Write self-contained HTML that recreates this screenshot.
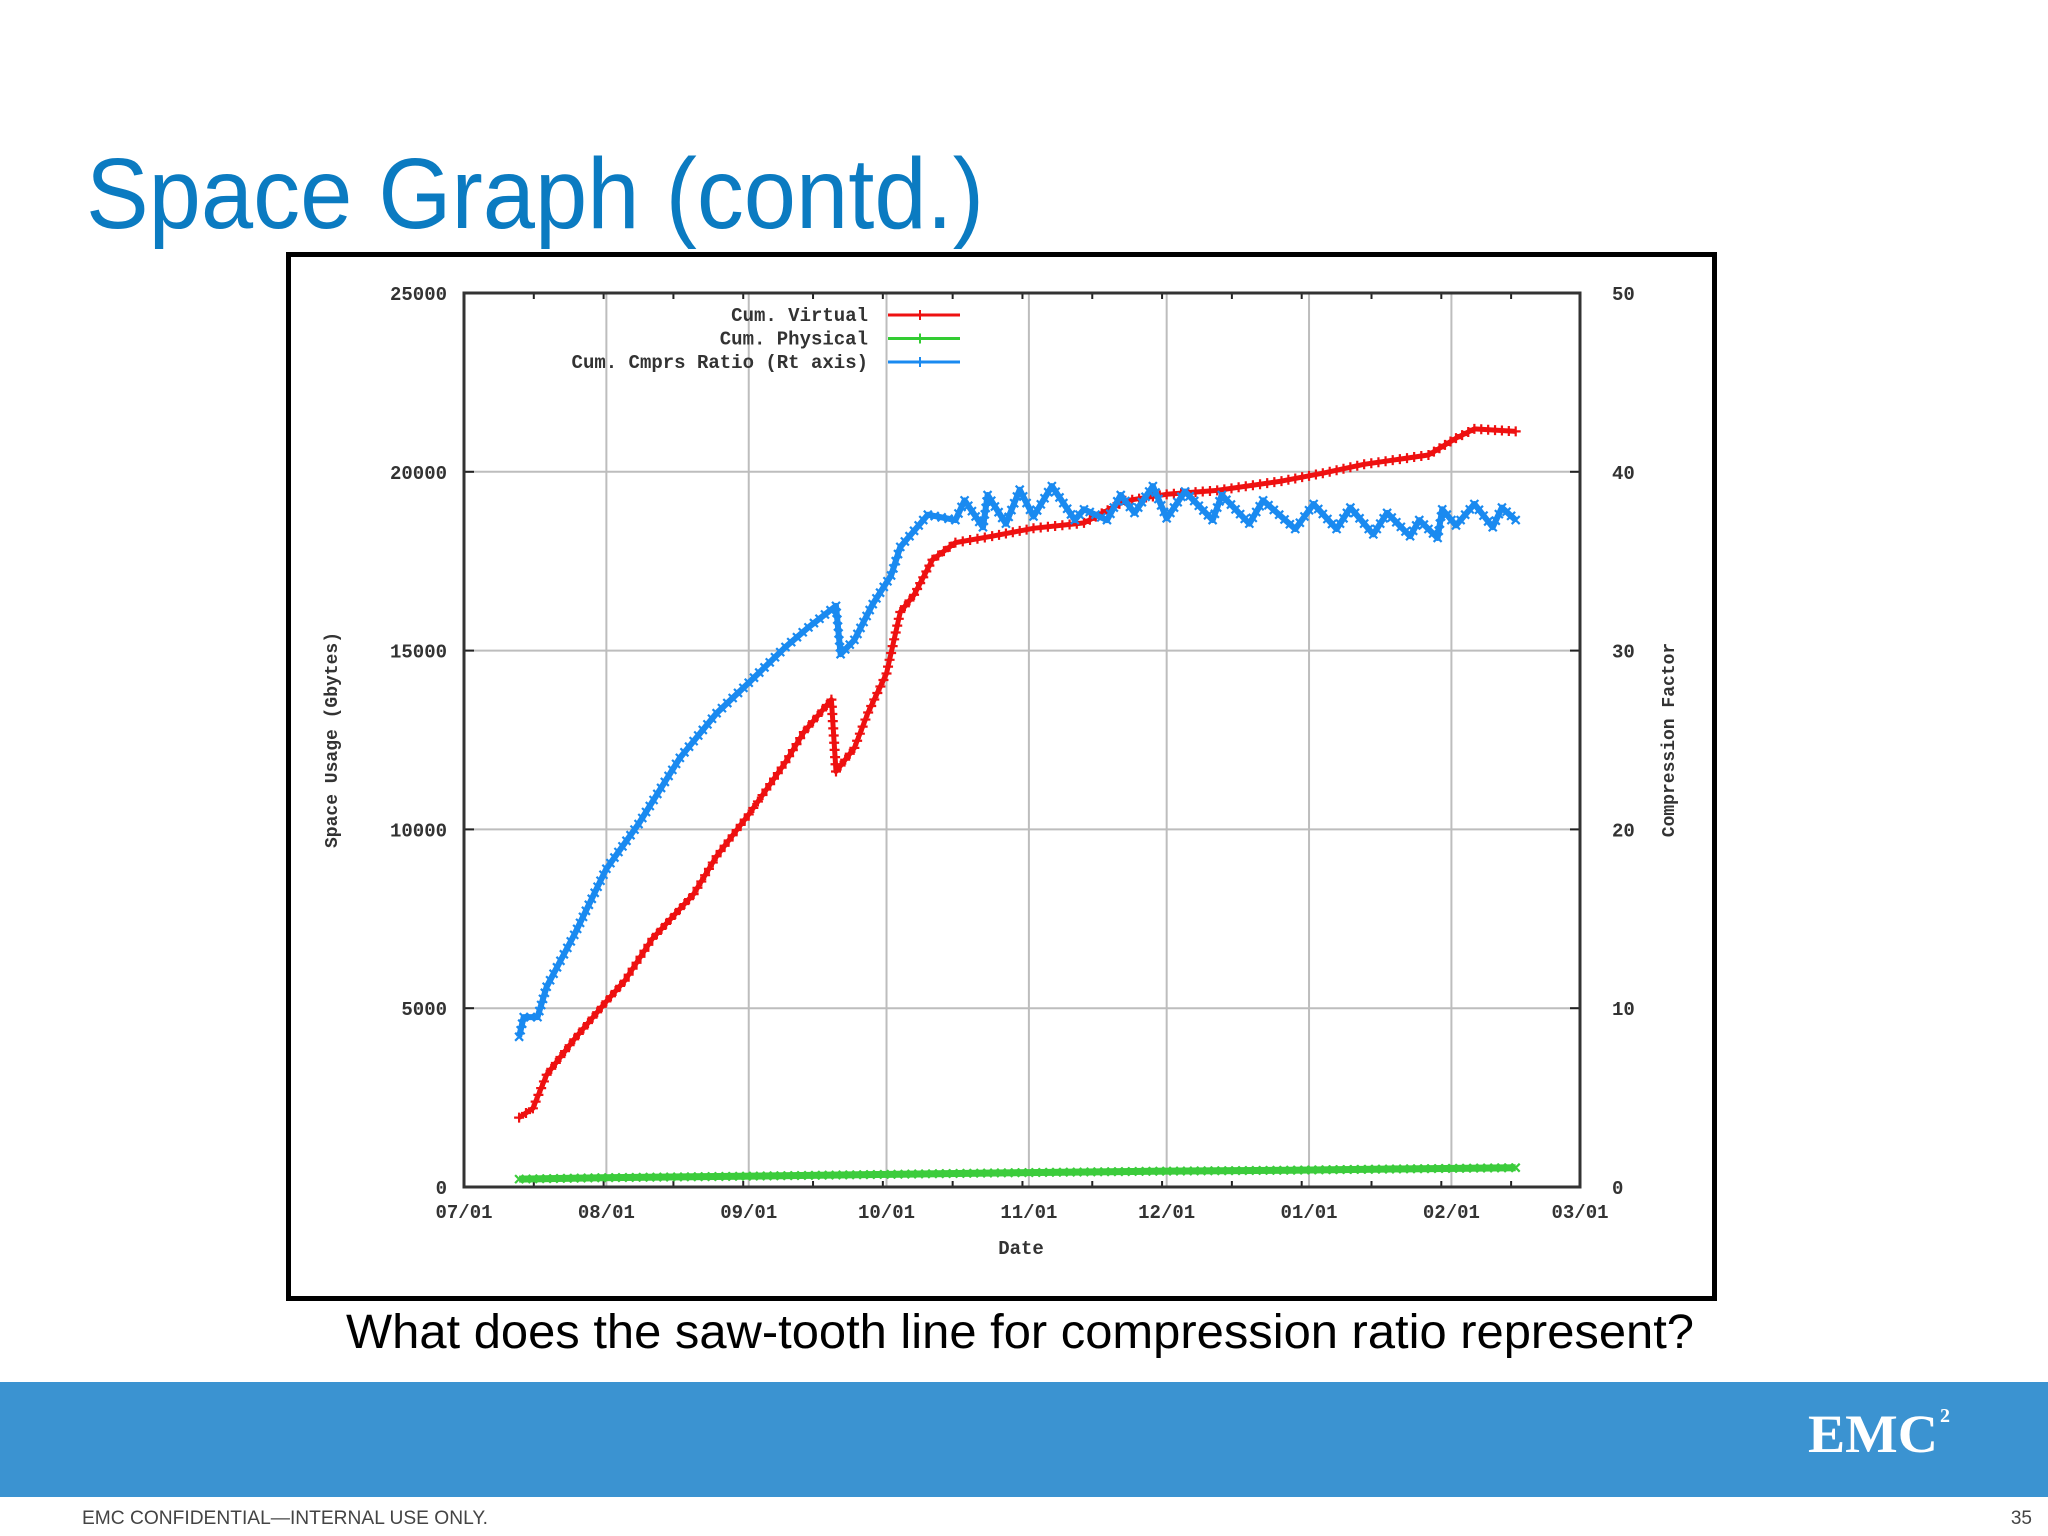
<!DOCTYPE html>
<html><head><meta charset="utf-8"><style>
html,body{margin:0;padding:0;background:#fff;}
svg{display:block;}
</style></head><body>
<svg id="s" width="2048" height="1536" viewBox="0 0 2048 1536" xmlns="http://www.w3.org/2000/svg">
<text x="86" y="228" font-family="'Liberation Sans', sans-serif" font-size="100" fill="#0b7bc1" textLength="898" lengthAdjust="spacingAndGlyphs">Space Graph (contd.)</text>
<rect x="288.5" y="254.5" width="1426" height="1044" fill="#fff" stroke="#000" stroke-width="5"/>
<g id="chart"></g>
<text x="346" y="1348" font-family="'Liberation Sans', sans-serif" font-size="48" fill="#000" textLength="1348" lengthAdjust="spacingAndGlyphs">What does the saw-tooth line for compression ratio represent?</text>
<rect x="0" y="1382" width="2048" height="115" fill="#3b93d1"/>
<text x="1808" y="1452" font-family="'Liberation Serif', serif" font-weight="bold" font-size="54" fill="#fff" textLength="130" lengthAdjust="spacingAndGlyphs">EMC</text>
<text x="1940" y="1422" font-family="'Liberation Serif', serif" font-weight="bold" font-size="20" fill="#fff">2</text>
<text x="82" y="1524" font-family="'Liberation Sans', sans-serif" font-size="19" fill="#444" textLength="406" lengthAdjust="spacingAndGlyphs">EMC CONFIDENTIAL—INTERNAL USE ONLY.</text>
<text x="2032" y="1524" text-anchor="end" font-family="'Liberation Sans', sans-serif" font-size="19" fill="#444">35</text>
</svg>
<script>
const xTickLabels=["07/01","08/01","09/01","10/01","11/01","12/01","01/01","02/01","03/01"];
const xTickDays=[0,31,62,92,123,153,184,215,243];
const yLeftTicks=[0,5000,10000,15000,20000,25000];
const yRightTicks=[0,10,20,30,40,50];
const virtDays=[12,15,18,24,31,35,41,50,55,62,65,70,74,80,81,85,88,92,95,98,102,107,115,124,135,144,153,164,178,187,196,210,216,220,229];
const virtVals=[1940,2200,3140,4130,5190,5770,6940,8190,9250,10420,10960,11880,12720,13630,11620,12280,13270,14360,16080,16560,17540,18020,18200,18420,18570,19190,19370,19480,19740,19960,20210,20470,20940,21200,21130];
const physDays=[12,30,60,90,120,150,180,200,229];
const physVals=[220,260,300,350,400,440,470,500,540];
const ratioDays=[12,13,16,18,24,31,38,47,55,62,70,75,81,82,85,89,93,95,101,107,109,113,114,118,121,124,128,133,135,140,143,146,150,153,157,163,165,171,174,181,185,190,193,198,201,206,208,212,213,216,220,224,226,229];
const ratioVals=[8.4,9.5,9.5,11.2,14.1,17.8,20.3,24.0,26.5,28.2,30.2,31.3,32.5,29.8,30.6,32.6,34.2,35.8,37.6,37.3,38.4,36.9,38.7,37.1,39.0,37.5,39.2,37.3,37.9,37.3,38.7,37.7,39.2,37.4,38.9,37.3,38.7,37.1,38.4,36.8,38.2,36.8,38.0,36.5,37.7,36.4,37.3,36.3,37.9,37.0,38.2,36.9,38.0,37.3];

const NS="http://www.w3.org/2000/svg";
const g=document.getElementById('chart');
const L=464,R=1580,T=293,B=1187;
const X=d=>L+(d/243)*(R-L);
const YL=v=>B-(v/25000)*(B-T);
const YR=v=>B-(v/50)*(B-T);
function mk(tag,attrs,parent){const e=document.createElementNS(NS,tag);for(const k in attrs)e.setAttribute(k,attrs[k]);(parent||g).appendChild(e);return e;}
const mono="'Liberation Mono', 'DejaVu Sans Mono', monospace";
xTickDays.forEach((d,i)=>{
  if(i>0&&i<xTickDays.length-1){const l=mk('line',{x1:X(d),x2:X(d),y1:T,y2:B,stroke:'#bdbdbd','stroke-width':2});
  
  }
  const t=mk('text',{x:X(d),y:1218,'text-anchor':'middle','font-family':mono,'font-size':19,'font-weight':'bold',fill:'#333'});
  t.textContent=xTickLabels[i];
  
  
});
yLeftTicks.forEach((v,i)=>{
  const y=YL(v);
  if(i>0&&i<yLeftTicks.length-1){const l=mk('line',{x1:L,x2:R,y1:y,y2:y,stroke:'#bdbdbd','stroke-width':2});
  
  }
  mk('line',{x1:L,x2:L+10,y1:y,y2:y,stroke:'#222','stroke-width':2});
  mk('line',{x1:R-10,x2:R,y1:y,y2:y,stroke:'#222','stroke-width':2});
  const t=mk('text',{x:447,y:y+7,'text-anchor':'end','font-family':mono,'font-size':19,'font-weight':'bold',fill:'#333'});
  t.textContent=String(v);
  
  
  const t2=mk('text',{x:1612,y:YR(yRightTicks[i])+7,'font-family':mono,'font-size':19,'font-weight':'bold',fill:'#333'});
  t2.textContent=String(yRightTicks[i]);
  
  
});
for(let d=0;d<=243;d+=15.2){mk('line',{x1:X(d),x2:X(d),y1:T,y2:T+6,stroke:'#222','stroke-width':2});mk('line',{x1:X(d),x2:X(d),y1:B-6,y2:B,stroke:'#222','stroke-width':2});}
const frame=mk('rect',{x:L,y:T,width:R-L,height:B-T,fill:'none',stroke:'#333','stroke-width':3});


const xt=mk('text',{x:1021,y:1254,'text-anchor':'middle','font-family':mono,'font-size':19,'font-weight':'bold',fill:'#333'});xt.textContent='Date';


const yt=mk('text',{x:0,y:0,'text-anchor':'middle','font-family':mono,'font-size':18,'font-weight':'bold',fill:'#333',transform:'translate(337,740) rotate(-90)'});yt.textContent='Space Usage (Gbytes)';


const yt2=mk('text',{x:0,y:0,'text-anchor':'middle','font-family':mono,'font-size':18,'font-weight':'bold',fill:'#333',transform:'translate(1674,740) rotate(-90)'});yt2.textContent='Compression Factor';


function series(days,vals,yf,color,name,mark,w){
  const pts=days.map((d,i)=>X(d).toFixed(1)+','+yf(vals[i]).toFixed(1)).join(' ');
  const p=mk('polyline',{points:pts,fill:'none',stroke:color,'stroke-width':w,'stroke-linejoin':'round'});
  
  
  let dstr='';
  for(let i=0;i<days.length;i++){
    const x0=X(days[i]),y0=yf(vals[i]);
    const segs=i<days.length-1?Math.max(1,Math.round(Math.hypot(X(days[i+1])-x0,yf(vals[i+1])-y0)/7)):1;
    for(let k=0;k<segs;k++){
      const x=i<days.length-1?x0+(X(days[i+1])-x0)*k/segs:x0;
      const y=i<days.length-1?y0+(yf(vals[i+1])-y0)*k/segs:y0;
      dstr+=mark==='x'?`M${x-4},${y-4}L${x+4},${y+4}M${x-4},${y+4}L${x+4},${y-4}`:`M${x-5},${y}H${x+5}M${x},${y-5}V${y+5}`;
    }
  }
  mk('path',{d:dstr,stroke:color,'stroke-width':2.2,fill:'none'});
}
series(physDays,physVals,YL,'#3ccc3c','series-cum-physical','x',7);
series(virtDays,virtVals,YL,'#ee1111','series-cum-virtual','+',5);
series(ratioDays,ratioVals,YR,'#1a8af0','series-cum-cmprs-ratio','x',6);
const leg=[['Cum. Virtual','#ee1111'],['Cum. Physical','#33cc33'],['Cum. Cmprs Ratio (Rt axis)','#1a8af0']];
leg.forEach((e,i)=>{const y=315+i*23.5;
  const t=mk('text',{x:868,y:y+6,'text-anchor':'end','font-family':mono,'font-size':19,'font-weight':'bold',fill:'#333'});t.textContent=e[0];
  
  
  mk('line',{x1:888,x2:960,y1:y,y2:y,stroke:e[1],'stroke-width':3});
  mk('path',{d:`M${920},${y-5}V${y+5}M915,${y}H925`,stroke:e[1],'stroke-width':2});
});
</script>
</body></html>
